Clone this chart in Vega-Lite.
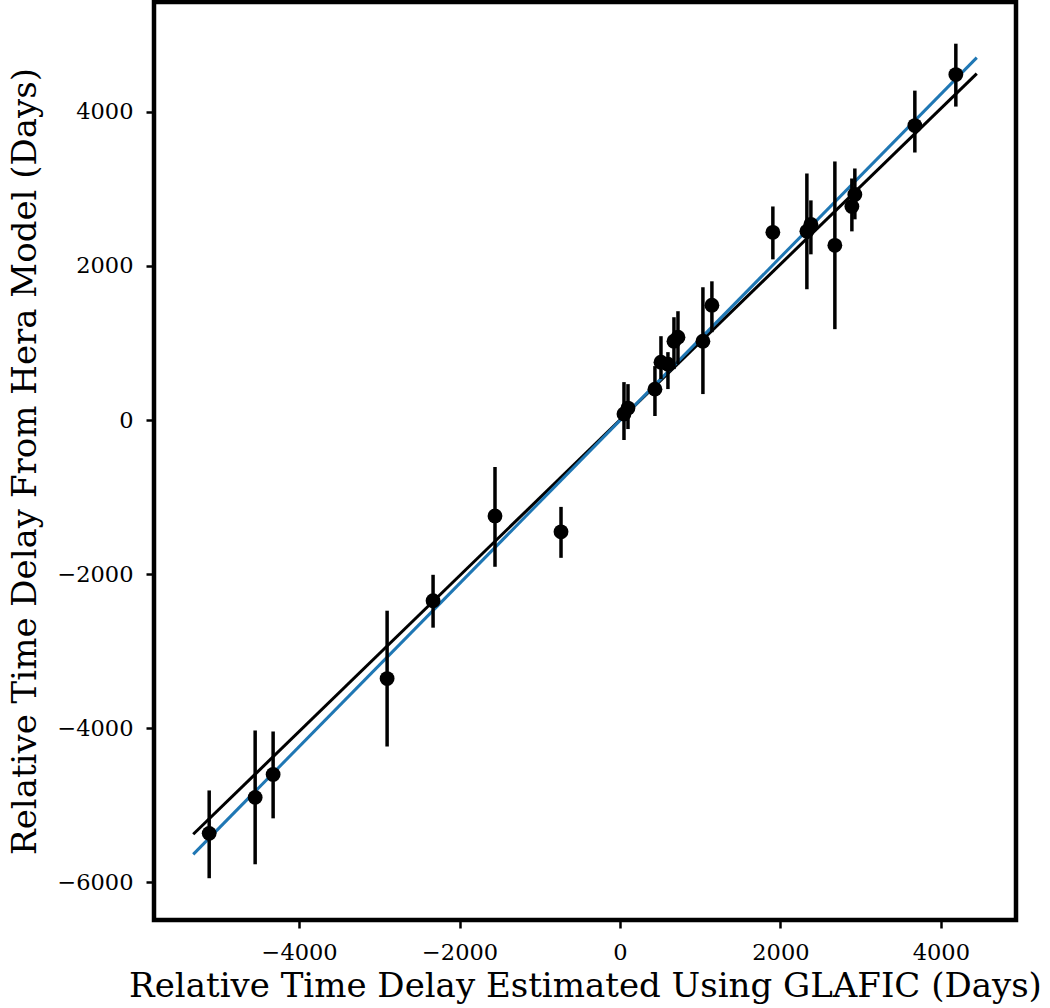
{
  "$schema": "https://vega.github.io/schema/vega-lite/v6.json",
  "autosize": {"type": "none"},
  "padding": {"left": 154, "top": 2, "right": 34, "bottom": 88},
  "width": 862,
  "height": 918,
  "background": "white",
  "config": {
    "view": {"stroke": "black", "strokeWidth": 4.5},
    "axis": {
      "grid": false,
      "domain": false,
      "labelFont": "DejaVu Serif",
      "labelFontSize": 22.5,
      "labelColor": "black",
      "titleFont": "DejaVu Serif",
      "titleFontSize": 34,
      "titleFontWeight": "normal",
      "titleColor": "black",
      "tickColor": "black",
      "tickSize": 8,
      "tickWidth": 2.5,
      "labelPadding": 13
    }
  },
  "datasets": {
    "pts": [
      {"x": -5121, "y": -5363, "lo": -5945, "hi": -4806},
      {"x": -4548, "y": -4896, "lo": -5764, "hi": -4028},
      {"x": -4324, "y": -4598, "lo": -5168, "hi": -4041},
      {"x": -2903, "y": -3355, "lo": -4236, "hi": -2474},
      {"x": -2330, "y": -2345, "lo": -2694, "hi": -2008},
      {"x": -1558, "y": -1244, "lo": -1904, "hi": -609},
      {"x": -735, "y": -1451, "lo": -1788, "hi": -1127},
      {"x": 50, "y": 78, "lo": -259, "hi": 492},
      {"x": 100, "y": 155, "lo": -117, "hi": 466},
      {"x": 436, "y": 401, "lo": 52, "hi": 700},
      {"x": 511, "y": 751, "lo": 531, "hi": 1088},
      {"x": 598, "y": 725, "lo": 402, "hi": 881},
      {"x": 673, "y": 1023, "lo": 661, "hi": 1334},
      {"x": 723, "y": 1075, "lo": 725, "hi": 1412},
      {"x": 1034, "y": 1023, "lo": 337, "hi": 1723},
      {"x": 1146, "y": 1490, "lo": 1140, "hi": 1800},
      {"x": 1906, "y": 2435, "lo": 2085, "hi": 2771},
      {"x": 2330, "y": 2448, "lo": 1697, "hi": 3199},
      {"x": 2380, "y": 2539, "lo": 2150, "hi": 2850},
      {"x": 2679, "y": 2267, "lo": 1179, "hi": 3355},
      {"x": 2891, "y": 2772, "lo": 2448, "hi": 3134},
      {"x": 2928, "y": 2927, "lo": 2604, "hi": 3264},
      {"x": 3676, "y": 3821, "lo": 3471, "hi": 4274},
      {"x": 4187, "y": 4482, "lo": 4067, "hi": 4883}
    ],
    "lines": [
      {"fit": "black", "x": -5320, "y": -5375},
      {"fit": "black", "x": 4448, "y": 4495},
      {"fit": "blue", "x": -5320, "y": -5635},
      {"fit": "blue", "x": 4448, "y": 4702}
    ]
  },
  "layer": [
    {
      "data": {"name": "lines"},
      "mark": {"type": "line", "strokeWidth": 3, "clip": true},
      "encoding": {
        "x": {"field": "x", "type": "quantitative", "scale": {"domain": [-5809, 4937], "nice": false, "zero": false},
              "axis": {"values": [-4000, -2000, 0, 2000, 4000], "format": "d", "title": "Relative Time Delay Estimated Using GLAFIC (Days)", "titlePadding": 6}},
        "y": {"field": "y", "type": "quantitative", "scale": {"domain": [-6487, 5424], "nice": false, "zero": false},
              "axis": {"values": [-6000, -4000, -2000, 0, 2000, 4000], "format": "d", "title": "Relative Time Delay From Hera Model (Days)", "titlePadding": 14}},
        "color": {"field": "fit", "type": "nominal", "scale": {"domain": ["black", "blue"], "range": ["#000000", "#1f77b4"]}, "legend": null},
        "detail": {"field": "fit"}
      }
    },
    {
      "data": {"name": "pts"},
      "mark": {"type": "rule", "strokeWidth": 3.5, "color": "black"},
      "encoding": {
        "x": {"field": "x", "type": "quantitative"},
        "y": {"field": "lo", "type": "quantitative"},
        "y2": {"field": "hi"}
      }
    },
    {
      "data": {"name": "pts"},
      "mark": {"type": "point", "filled": true, "size": 220, "color": "black", "opacity": 1},
      "encoding": {
        "x": {"field": "x", "type": "quantitative"},
        "y": {"field": "y", "type": "quantitative"}
      }
    }
  ]
}
